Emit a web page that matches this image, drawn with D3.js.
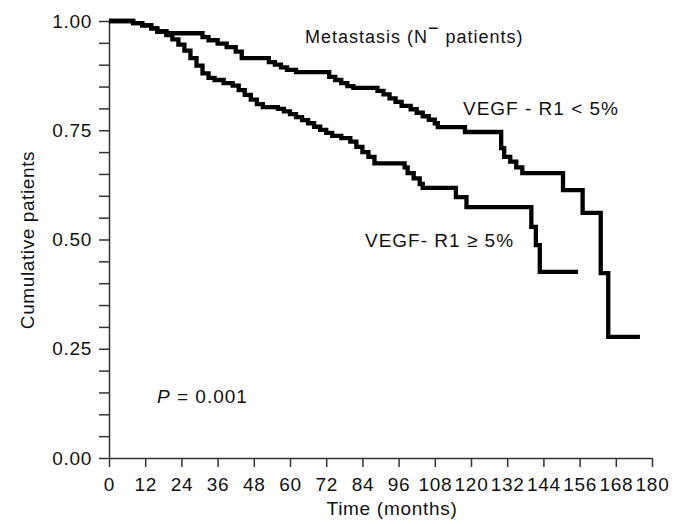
<!DOCTYPE html>
<html>
<head>
<meta charset="utf-8">
<script src="https://cdn.jsdelivr.net/npm/d3@7"></script>
<style>
  body { margin: 0; background: #fff; }
  svg { display: block; font-family: "Liberation Sans", Arial, Helvetica, sans-serif; }
</style>
</head>
<body>
<div id="chart"></div>
<script>
// Kaplan-Meier steps (months, cumulative proportion)
const lowTime = [0, 8, 11, 14, 16, 19, 31, 33, 36, 39, 42, 44, 53, 55, 57, 59, 62, 73, 75, 77, 79, 81,
  89, 91, 93, 95, 97, 100, 102, 104, 106, 108, 109, 118, 130, 131, 133, 135, 137, 150.5, 157, 163, 165.5, 176];
const lowSurv = [1.0, 0.995, 0.99, 0.983, 0.976, 0.972, 0.963, 0.956, 0.948, 0.94, 0.93, 0.915, 0.906, 0.9, 0.894, 0.888, 0.883, 0.872, 0.865, 0.858, 0.851, 0.847,
  0.84, 0.832, 0.823, 0.815, 0.806, 0.798, 0.79, 0.782, 0.774, 0.766, 0.757, 0.746, 0.709, 0.689, 0.678, 0.665, 0.652, 0.613, 0.561, 0.423, 0.277, 0.277];

const highTime = [0, 8, 11, 14, 16, 19, 21, 23, 25, 27, 29, 31, 33, 35, 38, 41, 43, 45, 47, 49, 51, 56, 58, 60, 62, 64, 66, 68, 70, 72, 74, 77, 80, 82, 84, 86, 88,
  98, 99, 101, 103, 104, 115, 118.5, 140, 141.5, 142.8, 155.5];
const highSurv = [1.0, 0.995, 0.99, 0.983, 0.976, 0.968, 0.958, 0.946, 0.932, 0.915, 0.898, 0.88, 0.87, 0.865, 0.858, 0.852, 0.842, 0.831, 0.82, 0.81, 0.803, 0.799, 0.793, 0.787, 0.78, 0.773, 0.766, 0.758, 0.751, 0.744, 0.737, 0.732, 0.724, 0.712, 0.7, 0.689, 0.674,
  0.665, 0.652, 0.64, 0.627, 0.618, 0.597, 0.574, 0.529, 0.487, 0.426, 0.426];

const xTicks = d3.range(0, 181, 12);
const yMajor = [0, 0.25, 0.5, 0.75, 1];
const yTicks = d3.range(0, 21).map(i => i * 0.05);

const W = 685, H = 524;
const svg = d3.select("#chart").append("svg").attr("width", W).attr("height", H);

const x = d3.scaleLinear().domain([0, 180]).range([109, 652]);
const y = d3.scaleLinear().domain([0, 1]).range([458, 21]);

// axes
const xAxis = svg.append("g").attr("transform", "translate(0,458)")
  .call(d3.axisBottom(x).tickValues(xTicks).tickSize(9).tickSizeOuter(0).tickPadding(11));

const yAxis = svg.append("g").attr("transform", "translate(109,0)")
  .call(d3.axisLeft(y).tickValues(yTicks).tickSize(10).tickSizeOuter(0).tickPadding(7)
    .tickFormat(d => yMajor.some(m => Math.abs(m - d) < 1e-6) ? d3.format(".2f")(d) : ""));

[xAxis, yAxis].forEach(g => {
  g.selectAll("path, line").attr("stroke", "#333").attr("stroke-width", 1.5);
  g.selectAll("text").attr("fill", "#111").style("font-size", "19px").style("letter-spacing", "0.7px")
    .style("font-family", "'Liberation Sans', Arial, sans-serif");
});

// curves
const line = d3.line().x(d => x(d[0])).y(d => y(d[1])).curve(d3.curveStepAfter);

[[lowTime, lowSurv], [highTime, highSurv]].forEach(([t, s]) => {
  svg.append("path")
    .attr("d", line(d3.zip(t, s)))
    .attr("fill", "none")
    .attr("stroke", "#000")
    .attr("stroke-width", 4.3)
    .attr("stroke-linejoin", "miter");
});

// labels
const txt = (px, py, size) => svg.append("text").attr("x", px).attr("y", py)
  .attr("fill", "#111").style("font-size", size + "px").style("letter-spacing", "1px");

const title = txt(305, 43, 18);
title.append("tspan").text("Metastasis (N");
title.append("tspan").attr("dy", -9).text("\u2212");
title.append("tspan").attr("dy", 9).text(" patients)");

txt(463, 115, 19).text("VEGF - R1 < 5%");
txt(365, 247, 19).text("VEGF- R1 \u2265 5%");

const p = txt(157, 403, 19);
p.append("tspan").style("font-style", "italic").text("P");
p.append("tspan").text(" = 0.001");

txt(392, 515, 19).attr("text-anchor", "middle").style("letter-spacing", "0.7px").text("Time (months)");

svg.append("text")
  .attr("transform", "translate(34,240) rotate(-90)")
  .attr("text-anchor", "middle")
  .attr("fill", "#111")
  .style("font-size", "19px").style("letter-spacing", "0.6px")
  .text("Cumulative patients");
</script>
</body>
</html>
